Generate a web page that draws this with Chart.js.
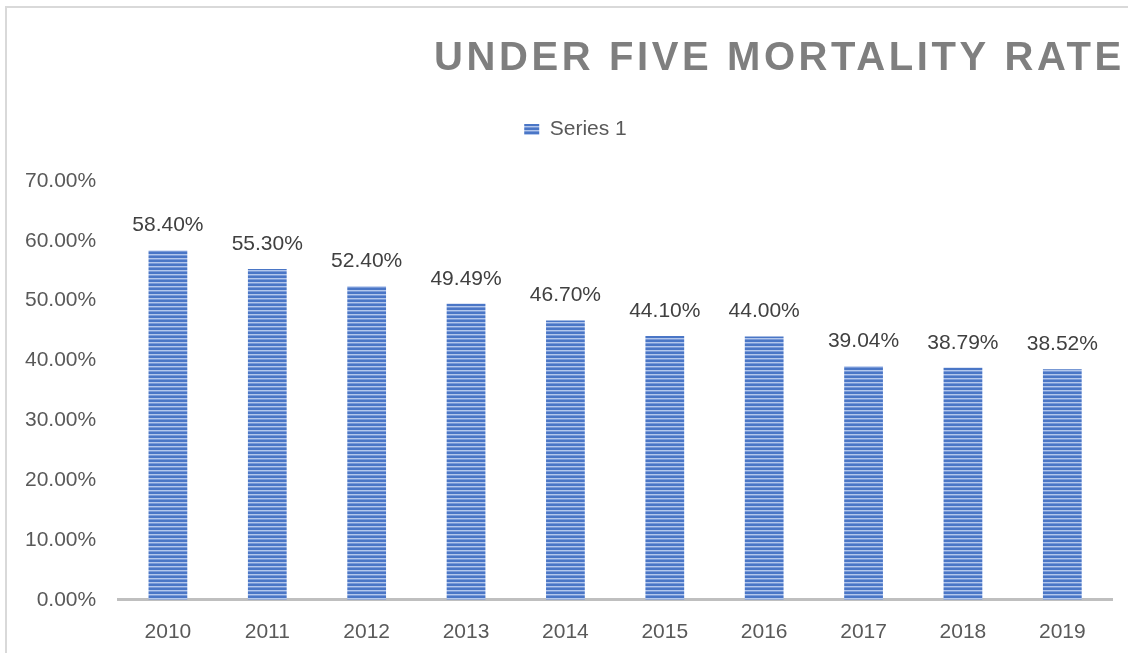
<!DOCTYPE html>
<html>
<head>
<meta charset="utf-8">
<script src="https://cdn.jsdelivr.net/npm/chart.js@4"></script>
<style>
  html, body { margin: 0; padding: 0; background: #fff; overflow: hidden; }
  .frame {
    position: absolute; left: 5px; top: 6px;
    width: 1200px; height: 700px;
    border-left: 2px solid #d9d9d9; border-top: 2px solid #d9d9d9;
  }
  .wrap { position: absolute; left: 0; top: 0; width: 1152px; height: 653px; }
</style>
</head>
<body>
<div class="frame"></div>
<div class="wrap"><canvas id="mortalityChart" width="1152" height="653"></canvas></div>
<script>
(function() {
    'use strict';

    // chart data
    const years = ['2010', '2011', '2012', '2013', '2014', '2015', '2016', '2017', '2018', '2019'];
    const rates = [58.40, 55.30, 52.40, 49.49, 46.70, 44.10, 44.00, 39.04, 38.79, 38.52];
    const seriesName = 'Series 1';
    const chartTitle = 'UNDER FIVE MORTALITY RATE';

    const FONT = '"Liberation Sans", Arial, sans-serif';

    // striped fill like the excel pattern
    function makeStripes() {
        const c = document.createElement('canvas');
        c.width = 4;
        c.height = 4;
        const g = c.getContext('2d');
        g.fillStyle = '#4a76c6'; g.fillRect(0, 0, 4, 2);
        g.fillStyle = '#b3c7ec'; g.fillRect(0, 2, 4, 1);
        g.fillStyle = '#7899d8'; g.fillRect(0, 3, 4, 1);
        return g.createPattern(c, 'repeat');
    }

    // title with wide letter spacing
    const titlePlugin = {
        id: 'spacedTitle',
        afterDraw(chart) {
            const ctx = chart.ctx;
            ctx.save();
            ctx.font = 'bold 40px ' + FONT;
            ctx.letterSpacing = '3.6px';
            ctx.fillStyle = '#7f7f7f';
            ctx.textBaseline = 'middle';
            ctx.textAlign = 'left';
            ctx.fillText(chartTitle, 434, 59);
            ctx.restore();
        }
    };

    // nudge the legend to where excel puts it
    const legendShift = {
        id: 'legendShift',
        afterLayout(chart) {
            const lg = chart.legend;
            if (lg) {
                lg.left += 18;
                lg.right += 18;
                lg.top -= 31;
                lg.bottom -= 31;
            }
        }
    };

    // value labels above bars
    const valueLabels = {
        id: 'valueLabels',
        afterDatasetsDraw(chart) {
            const ctx = chart.ctx;
            const meta = chart.getDatasetMeta(0);
            ctx.save();
            ctx.font = '21px ' + FONT;
            ctx.fillStyle = '#404040';
            ctx.textAlign = 'center';
            ctx.textBaseline = 'middle';
            meta.data.forEach((bar, i) => {
                ctx.fillText(rates[i].toFixed(2) + '%', bar.x, bar.y - 25);
            });
            ctx.restore();
        }
    };

    const ctx = document.getElementById('mortalityChart').getContext('2d');
    new Chart(ctx, {
        type: 'bar',
        data: {
            labels: years,
            datasets: [{
                label: seriesName,
                data: rates,
                backgroundColor: makeStripes(),
                borderWidth: 0,
                categoryPercentage: 1,
                barPercentage: 0.39
            }]
        },
        options: {
            responsive: false,
            animation: false,
            layout: {
                padding: { top: 140, left: 3, right: 40, bottom: -12 }
            },
            plugins: {
                title: { display: false },
                tooltip: { enabled: false },
                legend: {
                    position: 'top',
                    labels: {
                        boxWidth: 15,
                        boxHeight: 11,
                        padding: 10,
                        color: '#595959',
                        font: { family: FONT, size: 21 }
                    }
                }
            },
            scales: {
                x: {
                    grid: { display: false, drawTicks: false },
                    border: { display: true, color: '#bfbfbf', width: 3 },
                    ticks: {
                        padding: 20,
                        color: '#595959',
                        font: { family: FONT, size: 21 }
                    }
                },
                y: {
                    min: 0,
                    max: 70,
                    grid: { display: false, drawTicks: false },
                    border: { display: false },
                    ticks: {
                        stepSize: 10,
                        padding: 22,
                        color: '#595959',
                        font: { family: FONT, size: 21 },
                        callback: (v) => v.toFixed(2) + '%'
                    }
                }
            }
        },
        plugins: [titlePlugin, legendShift, valueLabels]
    });
})();
</script>
</body>
</html>
